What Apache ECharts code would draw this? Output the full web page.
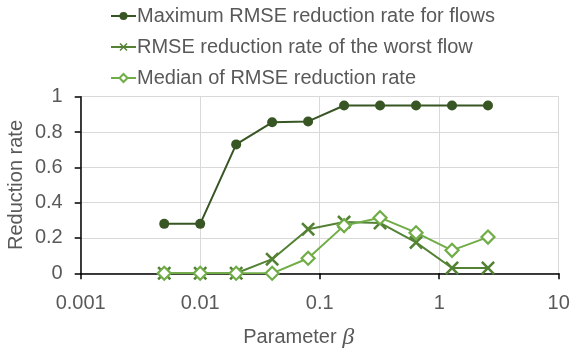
<!DOCTYPE html>
<html><head><meta charset="utf-8">
<script src="https://cdn.jsdelivr.net/npm/echarts@6/dist/echarts.min.js"></script>
<style>html,body{margin:0;padding:0;background:#fff}#c{width:571px;height:348px}</style>
</head><body><div id="c"></div>
<script>
const betas = [0.005, 0.01, 0.02, 0.04, 0.08, 0.16, 0.32, 0.64, 1.28, 2.56];
const maxRate = [0.28, 0.28, 0.73, 0.855, 0.86, 0.95, 0.95, 0.95, 0.95, 0.95];
const worstRate = [0, 0, 0, 0.08, 0.25, 0.29, 0.285, 0.175, 0.03, 0.03];
const medianRate = [0, 0, 0, 0, 0.085, 0.27, 0.315, 0.23, 0.13, 0.205];
const seriesNames = ['Maximum RMSE reduction rate for flows', 'RMSE reduction rate of the worst flow', 'Median of RMSE reduction rate'];
const xTickLabels = {0.001: '0.001', 0.01: '0.01', 0.1: '0.1', 1: '1', 10: '10'};

const pair = (ys) => betas.map((b, i) => [b, ys[i]]);
const txt = '#595959';
const font = 'Liberation Sans, Arial, sans-serif';
const xPath = 'path://M0,1.3 L1.3,0 L5,3.7 L8.7,0 L10,1.3 L6.3,5 L10,8.7 L8.7,10 L5,6.3 L1.3,10 L0,8.7 L3.7,5 Z';

const chart = echarts.init(document.getElementById('c'), null, {renderer: 'canvas'});
chart.setOption({
  animation: false,
  backgroundColor: '#fff',
  grid: {left: 80.7, right: 12.3, top: 96.7, bottom: 74.7, containLabel: false, outerBoundsMode: 'none'},
  legend: {
    orient: 'vertical', left: 105, top: 1, itemWidth: 25, itemHeight: 10, itemGap: 11,
    textStyle: {color: txt, fontSize: 20, fontFamily: font, lineHeight: 20, padding: [0, 0, 0, -4]},
    data: seriesNames
  },
  xAxis: {
    type: 'log', logBase: 10, min: 0.001, max: 10,
    name: 'Parameter {b|β}', nameLocation: 'middle', nameGap: 52,
    nameTextStyle: {color: txt, fontSize: 20, fontFamily: font, padding: [0, 42, 0, 0],
      rich: {b: {fontFamily: 'Liberation Serif, serif', fontStyle: 'italic', fontSize: 24, color: txt}}},
    axisLine: {show: true, onZero: false, lineStyle: {color: '#000', width: 1.5}},
    axisTick: {show: true, inside: false, length: 6, lineStyle: {color: '#000', width: 1.5}},
    minorTick: {show: false},
    splitLine: {show: true, lineStyle: {color: '#d9d9d9', width: 1}},
    axisLabel: {color: txt, fontSize: 20, fontFamily: font, margin: 20,
      formatter: v => { const k = Object.keys(xTickLabels).find(t => Math.abs(Math.log10(+t) - Math.log10(v)) < 1e-6); return k ? xTickLabels[k] : ''; }}
  },
  yAxis: {
    type: 'value', min: 0, max: 1, interval: 0.2,
    name: 'Reduction rate', nameLocation: 'middle', nameGap: 54, nameRotate: 90, nameMoveOverlap: false,
    nameTextStyle: {color: txt, fontSize: 20, fontFamily: font},
    axisLine: {show: true, lineStyle: {color: '#000', width: 1.5}},
    axisTick: {show: true, inside: false, length: 6, lineStyle: {color: '#000', width: 1.5}},
    splitLine: {show: true, lineStyle: {color: '#d9d9d9', width: 1}},
    axisLabel: {color: txt, fontSize: 20, fontFamily: font, margin: 18,
      formatter: v => String(Math.round(v * 10) / 10)}
  },
  series: [
    {name: seriesNames[0], type: 'line', data: pair(maxRate), symbol: 'circle', symbolSize: 10,
     lineStyle: {color: '#375623', width: 2}, itemStyle: {color: '#375623'}, z: 3},
    {name: seriesNames[1], type: 'line', data: pair(worstRate), symbol: xPath, symbolSize: 14,
     lineStyle: {color: '#548235', width: 2}, itemStyle: {color: '#548235'}, z: 2},
    {name: seriesNames[2], type: 'line', data: pair(medianRate), symbol: 'diamond', symbolSize: 13,
     lineStyle: {color: '#70AD47', width: 2},
     itemStyle: {color: '#fff', borderColor: '#70AD47', borderWidth: 2.2}, z: 4}
  ]
});
</script></body></html>
